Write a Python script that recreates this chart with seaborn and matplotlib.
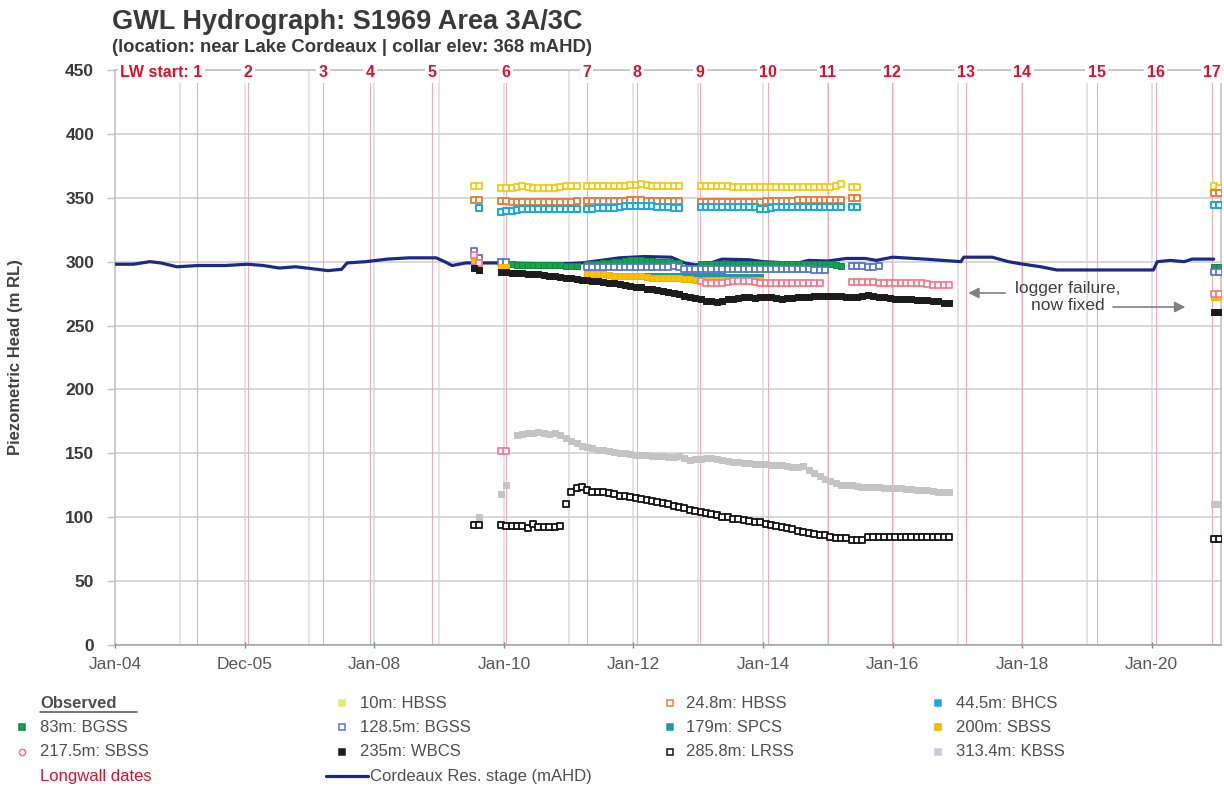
import numpy as np
import pandas as pd
import matplotlib
matplotlib.use("Agg")
import matplotlib.pyplot as plt
import seaborn as sns
from matplotlib.lines import Line2D

sns.set_theme(style="white")
plt.rcParams["font.family"] = ["Liberation Sans", "DejaVu Sans"]

# ---------------- data ----------------
# Longwall start dates
lw_labels = ["1", "2", "3", "4", "5", "6", "7", "8", "9", "10", "11", "12", "13", "14", "15", "16", "17"]
lw_dates = ["2005-04-08", "2006-01-18", "2007-03-17", "2007-12-10", "2008-11-20", "2010-01-12",
            "2011-04-12", "2012-01-22", "2013-01-12", "2014-01-30", "2015-01-01", "2015-12-28",
            "2017-02-17", "2018-01-01", "2019-02-25", "2020-01-22", "2020-12-05"]

# x tick labels
xtick_dates = ["2004-01-01", "2005-12-31", "2008-01-01", "2010-01-01", "2012-01-01",
               "2014-01-01", "2016-01-01", "2018-01-01", "2020-01-01"]
xtick_labels = ["Jan-04", "Dec-05", "Jan-08", "Jan-10", "Jan-12", "Jan-14", "Jan-16", "Jan-18", "Jan-20"]
ytick_values = [0, 50, 100, 150, 200, 250, 300, 350, 400, 450]

# Cordeaux reservoir stage (mAHD)
res_dates = ["2004-01-01", "2004-04-15", "2004-07-15", "2004-09-15", "2004-12-15", "2005-04-15",
             "2005-09-15", "2006-01-15", "2006-04-15", "2006-07-15", "2006-10-15", "2007-02-15",
             "2007-04-15", "2007-07-01", "2007-08-01", "2007-11-15", "2008-03-15", "2008-07-15",
             "2008-12-15", "2009-02-01", "2009-03-15", "2009-06-01", "2009-09-15", "2010-01-01",
             "2010-07-01", "2011-01-01", "2011-03-15", "2011-07-01", "2011-10-15", "2012-03-01",
             "2012-08-01", "2012-10-15", "2012-12-15", "2013-03-01", "2013-05-15", "2013-10-15",
             "2014-01-01", "2014-03-15", "2014-07-01", "2014-09-15", "2015-01-01", "2015-04-15",
             "2015-08-01", "2015-10-01", "2016-01-01", "2016-07-01", "2016-12-01", "2017-01-20",
             "2017-02-05", "2017-07-15", "2017-10-15", "2017-12-15", "2018-04-15", "2018-07-15",
             "2019-01-01", "2019-07-01", "2020-01-10", "2020-02-01", "2020-04-15", "2020-07-01",
             "2020-08-15", "2020-12-15"]
res_vals = [298, 298, 300, 299, 296, 297, 297, 298, 297, 295, 296, 294, 293, 294, 299, 300, 302, 303,
            303, 300, 297, 299, 299, 299, 298.5, 298.5, 299, 301, 303, 304, 303.5, 299, 297.5, 298.5,
            302, 301.5, 300, 299.5, 298.5, 301, 300.5, 302.5, 302.5, 301, 303.5, 302, 300.5, 300,
            303.5, 303.5, 300, 298.5, 296, 293.5, 293.5, 293.5, 293.5, 300, 301, 300, 302, 302]

# Observed piezometric heads: (first month, monthly values)
hbss_10m = [("2009-07", [359, 359]),
            ("2009-12", [357.5, 358, 358, 358.5, 359, 358.5, 358, 358, 358, 358, 358, 358.5, 359, 359.5, 359.5]),
            ("2011-04", [359.5, 359.5, 359.5, 359.5, 359.5, 359.5, 359.5, 359.5, 360, 360, 361, 360, 359.5,
                         359.5, 359.5, 359.5, 359.5, 359.5]),
            ("2013-01", [359.5, 359.5, 359.5, 359.5, 359.5, 359, 358.5, 358.5, 358.5, 358.5, 358.5, 358.5,
                         358.5, 358.5, 358.5, 358.5, 358.5, 358.5, 358.5, 358.5, 358.5, 358.5, 358.5,
                         358.5, 358.5, 359, 360.5]),
            ("2015-05", [358.5, 358.5]),
            ("2020-12", [359.5, 358])]
hbss_24m = [("2009-07", [348.5, 348.5]),
            ("2009-12", [347.5, 347.5, 347, 347, 347, 347, 347, 347, 347, 347, 347, 347, 347, 347, 347.5]),
            ("2011-04", [347.5, 347.5, 347.5, 347.5, 347.5, 347.5, 347.5, 347.5, 348, 348, 348, 347.5, 347.5,
                         347.5, 347.5, 347.5, 347.5, 347.5]),
            ("2013-01", [347, 347, 347, 347, 347, 347, 347, 347, 347, 347, 347, 347, 347.5, 347.5, 347.5,
                         347.5, 347.5, 347.5, 348, 348, 348, 348, 348, 348, 348.5, 348.5, 348.5]),
            ("2015-05", [349.5, 349.5]),
            ("2020-12", [354, 353.5])]
bhcs_44m = [("2009-08", [342]),
            ("2009-12", [339, 339.5, 340, 340.5, 341, 341.5, 341.5, 341.5, 341.5, 341.5, 341.5, 341.5, 341.5,
                         341.5, 341.5]),
            ("2011-04", [341.5, 341.5, 342, 342, 342, 342, 343, 343.5, 343.5, 343.5, 343.5, 343.5, 343.5,
                         342.5, 342.5, 342.5, 342, 342]),
            ("2013-01", [343, 343, 343, 343, 343, 343, 343, 343, 343, 343, 343, 341, 341, 342, 342.5, 342.5,
                         342.5, 342.5, 343, 343, 343, 343, 343, 343, 343, 343, 343]),
            ("2015-05", [343, 343]),
            ("2020-12", [344.5, 344.5])]
bgss_83m = [("2010-01", [298, 298, 297.5, 297.5, 297.5, 297.5, 297.5, 297.5, 297.5, 297.5, 297.5, 297,
                         296.5, 296.5]),
            ("2011-04", [298.5, 298.5, 298.5, 299, 299, 299.5, 300, 300.5, 301, 301, 301, 300.5, 300.5,
                         300, 300, 299.5, 299, 299]),
            ("2013-01", [298, 298, 298, 298, 298, 298.5, 298.5, 298.5, 298.5, 298, 298, 298, 298, 298, 298,
                         298, 298, 298, 298, 298, 298, 298, 298, 298, 298, 297.5, 297]),
            ("2020-12", [296, 296])]
bgss_128m = [("2009-07", [308.5, 303]),
             ("2009-12", [300, 300]),
             ("2011-04", [296, 296, 296, 296, 296, 296, 296, 296, 296, 296, 296, 296, 296, 296, 296, 296,
                          296.5, 295.5, 294.5, 294.5, 294.5]),
             ("2013-01", [294.5, 294.5, 294, 294, 294, 294, 294.5, 294.5, 294.5, 294.5, 294, 294, 294, 294,
                          294.5, 294.5, 294.5, 294.5, 294, 294, 294, 293.5, 293.5, 293.5]),
             ("2015-05", [297, 296.5, 296.5, 296, 296, 296.5]),
             ("2020-12", [292, 292])]
spcs_179m = [("2012-02", [289, 289, 289, 289, 289, 289, 289, 288.5, 288.5, 288.5, 288.5, 288.5, 288.5,
                          288.5, 288.5, 288.5, 288, 288, 288, 288, 288, 288, 288]),
             ("2020-12", [273.5, 273.5])]
sbss_200m = [("2009-07", [301.5, 300]),
             ("2009-12", [296, 296]),
             ("2011-04", [290, 290, 290, 290, 289.5, 289, 288.5, 288.5, 288.5, 288.5, 288.5, 288, 287.5,
                          287.5, 287.5, 287.5, 287, 287, 286.5, 286.5, 286]),
             ("2013-01", [286, 286, 286, 286, 286, 286, 286, 286, 286, 286, 286, 286]),
             ("2020-12", [272, 272])]
sbss_217m = [("2009-07", [305, 299]),
             ("2009-12", [151.5, 151.5]),
             ("2013-01", [284.5, 283.5, 283.5, 283.5, 283.5, 284, 284.5, 284.5, 284.5, 284.5, 284, 283.5,
                          283.5, 283.5, 283.5, 283.5, 283.5, 283.5, 283.5, 283.5, 283.5, 283.5, 283.5]),
             ("2015-05", [284, 284, 284, 284, 284, 283.5, 283.5, 283, 283.5, 283.5, 283.5, 283, 283, 283,
                          282.5, 282, 282, 282, 282]),
             ("2020-12", [275, 275])]
wbcs_235m = [("2009-07", [295, 293.5]),
             ("2009-12", [292, 292, 291.5, 291.5, 291, 290.5, 290, 290, 289.5, 289, 288.5, 288, 287.5,
                          287, 286.5, 286, 285.5, 285, 284.5, 284, 283.5, 283, 282.5, 282, 281,
                          280.5, 280, 279, 278.5, 277.5, 277, 276, 275.5, 274.5, 273.5, 272.5, 271.5,
                          270.5, 269.5, 269, 268.5, 269.5, 270.5, 271, 271.5, 272, 272, 271.5, 272,
                          272, 272, 271.5, 271, 271.5, 271.5, 272, 272.5, 272.5, 273, 273, 273,
                          273, 273, 273, 272.5, 272.5, 272, 273.5, 274, 273, 272.5, 272, 271.5,
                          271, 271, 270.5, 270.5, 270, 270, 270, 269.5, 269.5, 268, 267.5]),
             ("2020-12", [261, 261])]
lrss_285m = [("2009-07", [94, 94]),
             ("2009-12", [94, 93, 93, 93, 93, 91.5, 95, 92, 92, 92, 92, 93.5]),
             ("2010-12", [110.5,
                          120, 122.5, 123.5, 121.5, 120, 119.5, 119.5, 119, 118, 117, 116.5, 116,
                          115, 114.5, 113.5, 112.5, 112, 111, 110, 109, 108, 107, 106, 105,
                          104, 103.5, 102.5, 101.5, 100.5, 100, 99, 98.5, 97.5, 97, 96.5, 96,
                          95, 94, 93.5, 92.5, 91.5, 90.5, 89.5, 88.5, 87.5, 86.5, 86, 86,
                          84.5, 84, 84, 84, 82.5, 82, 82, 84.5, 84.5, 84.5, 84.5, 84.5,
                          84.5, 84.5, 84.5, 84.5, 84.5, 84.5, 84.5, 84.5, 84.5, 84.5, 84.5]),
             ("2020-12", [83, 83])]
kbss_313m = [("2009-08", [100.5]),
             ("2009-12", [118, 125]),
             ("2010-03", [164.5, 165.5, 166, 166, 166.5, 166, 165.5, 166, 164.5, 162,
                          160, 158, 156, 155, 154, 153, 152.5, 152, 151, 150.5, 150, 149.5,
                          149, 148.5, 148.5, 148, 148, 148, 147.5, 147.5, 148, 146, 145, 145.5,
                          145.5, 146, 146.5, 145.5, 144.5, 144, 143.5, 143, 142.5, 142.5, 142, 142,
                          141.5, 141, 141, 140.5, 140, 139.5, 139, 140, 137, 134.5, 132, 130,
                          128, 126.5, 125.5, 125, 125, 124.5, 124, 124, 123.5, 123.5, 123, 123,
                          122.5, 122.5, 122, 122, 121.5, 121, 121, 120.5, 120, 119.5, 119.5]),
             ("2020-12", [110.5, 110.5])]

# ---------------- styles ----------------
series = [
    ("10m: HBSS", hbss_10m, dict(face="white", edge="#F7C600", lw=1.2, marker="s")),
    ("24.8m: HBSS", hbss_24m, dict(face="white", edge="#EE7D3B", lw=1.4, marker="s")),
    ("44.5m: BHCS", bhcs_44m, dict(face="white", edge="#1BA9E6", lw=1.5, marker="s")),
    ("83m: BGSS", bgss_83m, dict(face="#14A44D", edge="#0E8A3E", lw=0.7, marker="s")),
    ("128.5m: BGSS", bgss_128m, dict(face="white", edge="#5874D0", lw=1.3, marker="s")),
    ("179m: SPCS", spcs_179m, dict(face="#1E9AA4", edge="#1E9AA4", lw=0.7, marker="s")),
    ("200m: SBSS", sbss_200m, dict(face="#FFC000", edge="#F0B400", lw=0.7, marker="s")),
    ("217.5m: SBSS", sbss_217m, dict(face="white", edge="#FF6F80", lw=1.2, marker="s")),
    ("235m: WBCS", wbcs_235m, dict(face="#1C1C1C", edge="#1C1C1C", lw=0.7, marker="s")),
    ("285.8m: LRSS", lrss_285m, dict(face="white", edge="#111111", lw=1.3, marker="s")),
    ("313.4m: KBSS", kbss_313m, dict(face="#C4C4C4", edge="#C4C4C4", lw=0.7, marker="s")),
]

W, H = 1224, 789
fig = plt.figure(figsize=(W / 100, H / 100), dpi=100)
ax = fig.add_axes([115 / W, 144 / H, 1106 / W, 575 / H])
ax.set_facecolor("white")


def to_frame(segments):
    dates, vals = [], []
    for start, v in segments:
        d = pd.date_range(start, periods=len(v), freq="MS") + pd.Timedelta(days=14)
        dates.extend(d)
        vals.extend(v)
    return pd.DataFrame({"date": dates, "head": vals})


x0, x1 = pd.Timestamp("2004-01-01"), pd.Timestamp("2021-01-25")

# yearly light gridlines
for yr in range(2005, 2021):
    ax.axvline(pd.Timestamp(f"{yr}-01-01"), color="#E2E2E2", lw=1.3, zorder=0)
for yv in ytick_values:
    ax.axhline(yv, color="#D4D4D4", lw=1.3, zorder=0)

# longwall start lines
for d in lw_dates:
    ax.axvline(pd.Timestamp(d), color="#F5A9B5", lw=0.8, zorder=1)

# reservoir stage
res = pd.DataFrame({"date": pd.to_datetime(res_dates), "stage": res_vals})
sns.lineplot(data=res, x="date", y="stage", ax=ax, color="#1B2A86", lw=2.3,
             estimator=None, sort=False, zorder=3)

for i, (name, segs, st) in enumerate(series):
    df = to_frame(segs)
    sns.scatterplot(data=df, x="date", y="head", ax=ax, marker=st["marker"], s=14,
                    color=st["face"], edgecolor=st["edge"], linewidth=st["lw"], zorder=4 + i)

ax.set_xlim(x0, x1)
ax.set_ylim(0, 450)
ax.set_yticks(ytick_values)
ax.set_yticklabels([str(v) for v in ytick_values], fontsize=12.5, fontweight="bold", color="#3A3A3A")
ax.set_xticks(pd.to_datetime(xtick_dates))
ax.set_xticklabels(xtick_labels, fontsize=12.5, color="#595959")
ax.tick_params(axis="y", length=6, width=1, color="#BFBFBF", pad=9, direction="out", left=True)
ax.tick_params(axis="x", length=5, width=1, color="#808080", pad=6, direction="inout", bottom=True)
ax.set_xlabel("")
ax.set_ylabel("Piezometric Head (m RL)", fontsize=12, fontweight="bold", color="#404040", labelpad=30)
for sp in ax.spines.values():
    sp.set_color("#BFBFBF")
    sp.set_linewidth(1.1)
ax.spines["bottom"].set_color("#A0A0A0")

# LW labels along the top
for lab, d in zip(lw_labels, lw_dates):
    txt = "LW start: 1" if lab == "1" else lab
    ha = "right" if lab == "1" else "center"
    dx = 4 if lab == "1" else 0
    ax.annotate(txt, xy=(pd.Timestamp(d), 450), xytext=(dx, -2), textcoords="offset points",
                ha=ha, va="center", fontsize=11.5, fontweight="bold", color="#E0102F",
                bbox=dict(boxstyle="square,pad=0.15", fc="white", ec="none"), zorder=10,
                annotation_clip=False)

# logger failure annotation
ax.text(pd.Timestamp("2018-09-15"), 272.5, "logger failure,\nnow fixed", ha="center", va="center",
        fontsize=12.5, color="#404040", linespacing=1.15, zorder=12)
arrow = dict(arrowstyle="-|>", color="#808080", lw=1.2, mutation_scale=16)
ax.annotate("", xy=(pd.Timestamp("2017-02-14"), 275.5), xytext=(pd.Timestamp("2017-10-12"), 275.5),
            arrowprops=arrow, zorder=12)
ax.annotate("", xy=(pd.Timestamp("2020-07-24"), 264.5), xytext=(pd.Timestamp("2019-05-12"), 264.5),
            arrowprops=arrow, zorder=12)

# titles
fig.text(112 / W, 1 - 22 / H, "GWL Hydrograph: S1969 Area 3A/3C", fontsize=19.5, fontweight="bold",
         color="#3A3A3A", va="center", ha="left")
fig.text(112 / W, 1 - 47 / H, "(location: near Lake Cordeaux | collar elev: 368 mAHD)", fontsize=13.3,
         fontweight="bold", color="#3A3A3A", va="center", ha="left")

# legend (manual, four columns)
col_marker = [22, 342, 670, 938]
col_text = [40, 360, 686, 956]
rows = [703, 727, 752, 776]
legend_layout = [
    (0, 1, "83m: BGSS"), (0, 2, "217.5m: SBSS"),
    (1, 0, "10m: HBSS"), (1, 1, "128.5m: BGSS"), (1, 2, "235m: WBCS"),
    (2, 0, "24.8m: HBSS"), (2, 1, "179m: SPCS"), (2, 2, "285.8m: LRSS"),
    (3, 0, "44.5m: BHCS"), (3, 1, "200m: SBSS"), (3, 2, "313.4m: KBSS"),
]
style_by_name = {n: st for n, _, st in series}
legend_face = {"10m: HBSS": "#E8E86A", "44.5m: BHCS": "#1BA9E6", "313.4m: KBSS": "#C9C9DC",
               "24.8m: HBSS": "white"}
for c, r, name in legend_layout:
    st = style_by_name[name]
    face = legend_face.get(name, st["face"])
    edge = st["edge"] if name not in ("10m: HBSS", "44.5m: BHCS", "313.4m: KBSS") else face
    mk = "o" if name == "217.5m: SBSS" else "s"
    fig.add_artist(Line2D([col_marker[c] / W], [1 - rows[r] / H], transform=fig.transFigure,
                          marker=mk, markersize=4.5, markerfacecolor=face, markeredgecolor=edge,
                          markeredgewidth=1.1, linestyle="none"))
    fig.text(col_text[c] / W, 1 - rows[r] / H, name, fontsize=12, color="#505050", va="center", ha="left")

fig.text(col_text[0] / W, 1 - rows[0] / H, "Observed", fontsize=12, fontweight="bold",
         color="#505050", va="center", ha="left")
fig.add_artist(Line2D([col_text[0] / W, 137 / W], [1 - 712 / H, 1 - 712 / H], transform=fig.transFigure,
                      color="#505050", lw=1.1))
fig.text(col_text[0] / W, 1 - rows[3] / H, "Longwall dates", fontsize=12, color="#E0102F",
         va="center", ha="left")
fig.add_artist(Line2D([326 / W, 368 / W], [1 - rows[3] / H, 1 - rows[3] / H], transform=fig.transFigure,
                      color="#1B2A86", lw=2.3))
fig.text(370 / W, 1 - rows[3] / H, "Cordeaux Res. stage (mAHD)", fontsize=12, color="#505050",
         va="center", ha="left")

fig.savefig("out.png", dpi=100, facecolor="white")
